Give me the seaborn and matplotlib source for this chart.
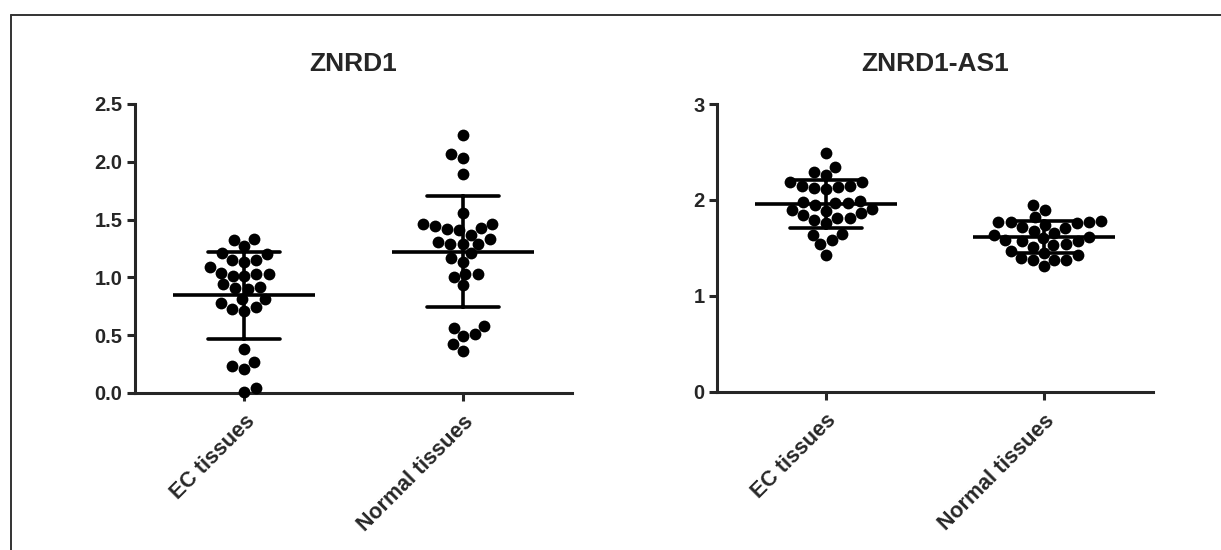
import pandas as pd
import matplotlib
matplotlib.use("Agg")
import matplotlib.pyplot as plt
import seaborn as sns
from matplotlib.lines import Line2D
from matplotlib.ticker import FormatStrFormatter

# values
groups = ["EC tissues", "Normal tissues"]

znrd1_ec = [1.33, 1.32, 1.27, 1.21, 1.20, 1.15, 1.13, 1.15, 1.09, 1.04,
            1.03, 1.01, 1.01, 1.03, 0.92, 0.90, 0.91, 0.94, 0.81, 0.81,
            0.78, 0.73, 0.71, 0.74, 0.38, 0.23, 0.21, 0.27, 0.01, 0.04]
znrd1_normal = [2.23, 2.07, 2.03, 1.89, 1.56, 1.43, 1.41, 1.46, 1.44, 1.46,
                1.37, 1.42, 1.33, 1.29, 1.29, 1.29, 1.31, 1.17, 1.13, 1.21,
                1.03, 0.93, 1.00, 1.03, 0.58, 0.49, 0.56, 0.51, 0.42, 0.36]

as1_ec = [2.49, 2.34, 2.26, 2.29, 2.19, 2.15, 2.12, 2.11, 2.14, 2.15,
          2.19, 1.98, 1.97, 1.91, 1.89, 1.84, 1.86, 1.90, 1.95, 1.97,
          1.99, 1.81, 1.79, 1.76, 1.81, 1.65, 1.64, 1.58, 1.54, 1.43]
as1_normal = [1.95, 1.90, 1.82, 1.77, 1.77, 1.74, 1.71, 1.72, 1.76, 1.77,
              1.78, 1.66, 1.61, 1.58, 1.57, 1.53, 1.51, 1.54, 1.57, 1.60,
              1.64, 1.68, 1.45, 1.40, 1.38, 1.31, 1.37, 1.38, 1.43, 1.47]

panels = [
    ("ZNRD1", znrd1_ec, znrd1_normal, [0, 0.5, 1.0, 1.5, 2.0, 2.5], "%.1f"),
    ("ZNRD1-AS1", as1_ec, as1_normal, [0, 1, 2, 3], "%d"),
]

sns.set_style("ticks")
plt.rcParams["font.family"] = ["Liberation Sans", "DejaVu Sans"]
plt.rcParams["font.weight"] = "bold"

fig = plt.figure(figsize=(12.21, 5.5), dpi=100)
ax_boxes = [[0.1106, 0.2855, 0.358, 0.5255],
            [0.5872, 0.2873, 0.357, 0.5236]]

for (title, ec, normal, yticks, fmt), box in zip(panels, ax_boxes):
    ax = fig.add_axes(box)
    df = pd.DataFrame({
        "group": [groups[0]] * len(ec) + [groups[1]] * len(normal),
        "value": ec + normal,
    })
    sns.swarmplot(data=df, x="group", y="value", ax=ax, color="black",
                  size=8.5, linewidth=0, order=groups)
    for coll in ax.collections:
        coll.set_clip_on(False)
    sns.pointplot(data=df, x="group", y="value", ax=ax, order=groups,
                  errorbar="sd", capsize=0.33, color="black",
                  linestyle="none", marker="_", markersize=102,
                  markeredgewidth=2.6, err_kws={"linewidth": 2.6})
    for ln in ax.lines:
        ln.set_clip_on(False)

    ax.set_xlim(-0.5, 1.5)
    ax.set_ylim(0, yticks[-1])
    ax.set_yticks(yticks)
    ax.yaxis.set_major_formatter(FormatStrFormatter(fmt))
    ax.set_xlabel("")
    ax.set_ylabel("")
    ax.set_title(title, fontsize=19, fontweight="bold", pad=24)
    sns.despine(ax=ax)
    for side in ["left", "bottom"]:
        ax.spines[side].set_linewidth(2.2)
    ax.tick_params(axis="y", width=2.2, length=6, labelsize=14.5, pad=3)
    ax.tick_params(axis="x", width=2.2, length=6, pad=7)
    plt.setp(ax.get_xticklabels(), rotation=45, ha="right",
             rotation_mode="anchor", fontsize=15.5, fontweight="bold")
    plt.setp(ax.get_yticklabels(), fontweight="bold")

# partial frame around the figure
fig.add_artist(Line2D([10.5 / 1221, 1], [1 - 15 / 550] * 2,
                      transform=fig.transFigure, color="#333333", lw=1.4))
fig.add_artist(Line2D([10.5 / 1221] * 2, [0, 1 - 15 / 550],
                      transform=fig.transFigure, color="#333333", lw=1.4))

fig.savefig("out.png", dpi=100)
